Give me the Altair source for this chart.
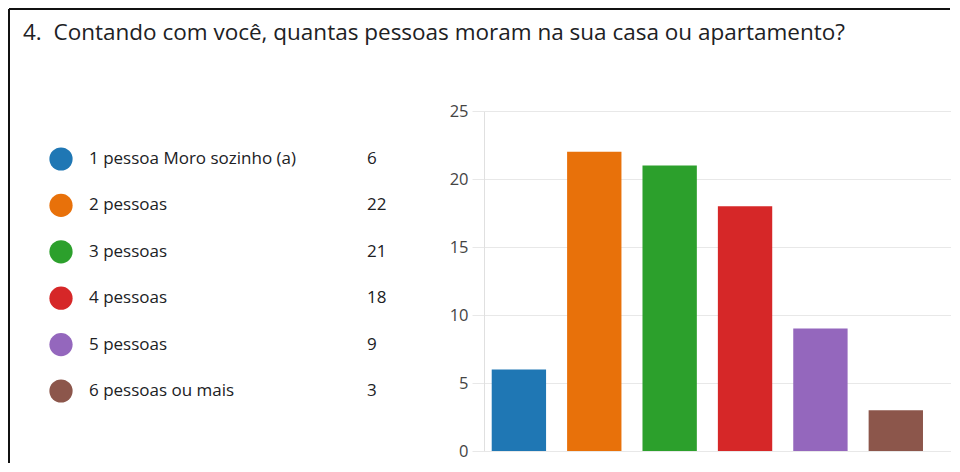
import altair as alt
import pandas as pd

# ---- data ----
categories = ["1 pessoa Moro sozinho (a)", "2 pessoas", "3 pessoas",
              "4 pessoas", "5 pessoas", "6 pessoas ou mais"]
counts = [6, 22, 21, 18, 9, 3]
colors = ["#1f77b4", "#e8710a", "#2ca02c", "#d62728", "#9467bd", "#8c564b"]
y_ticks = [0, 5, 10, 15, 20, 25]
title_text = "4.\u00a0\u00a0Contando com você, quantas pessoas moram na sua casa ou apartamento?"

df = pd.DataFrame({"cat": categories, "n": counts})
title_df = pd.DataFrame({"t": [title_text]})
frame_df = pd.DataFrame({"k": [0]})

FONT = "Open Sans"
TXT = "#202124"
H = 340

color_scale = alt.Scale(domain=categories, range=colors)
color_enc = alt.Color("cat:N", scale=color_scale, legend=None)

row_y = alt.Y("cat:N", sort=categories, axis=None,
              scale=alt.Scale(type="point", range=[48, 280], padding=0))

# ---- left panel: custom legend with counts ----
frame_left = alt.Chart(frame_df).mark_rule(color="#111", strokeWidth=2).encode(
    x=alt.value(1), y=alt.value(-102), y2=alt.value(352))
frame_top = alt.Chart(frame_df).mark_rule(color="#111", strokeWidth=2).encode(
    x=alt.value(1), x2=alt.value(942), y=alt.value(-102))

title_mark = alt.Chart(title_df).mark_text(
    align="left", baseline="middle", fontSize=22.5, font=FONT, color=TXT
).encode(x=alt.value(15), y=alt.value(-78), text="t:N")

dots = alt.Chart(df).mark_circle(size=540, opacity=1).encode(
    x=alt.value(53), y=row_y, color=color_enc)
labels = alt.Chart(df).mark_text(
    align="left", baseline="middle", fontSize=17, font=FONT, color=TXT
).encode(x=alt.value(81), y=row_y, text="cat:N")
nums = alt.Chart(df).mark_text(
    align="left", baseline="middle", fontSize=17, font=FONT, color=TXT
).encode(x=alt.value(359), y=row_y, text="n:Q")

left = alt.layer(frame_left, frame_top, title_mark, dots, labels, nums).properties(
    width=476, height=H)

# ---- right panel: bar chart ----
bars = alt.Chart(df).mark_bar().encode(
    x=alt.X("cat:N", sort=categories, axis=None,
            scale=alt.Scale(paddingInner=0.279, paddingOuter=0.237, align=0.216)),
    y=alt.Y("n:Q", scale=alt.Scale(domain=[0, 25], nice=False),
            axis=alt.Axis(values=y_ticks, title=None, grid=True,
                          gridColor="#e8e8e8", domainColor="#e0e0e0",
                          tickColor="#e8e8e8", tickSize=12, labelPadding=4,
                          labelFont=FONT, labelFontSize=16.5, labelColor="#444")),
    color=color_enc,
).properties(width=467, height=H)

chart = alt.hconcat(left, bars, spacing=0, bounds="flush").properties(
    padding=0
).configure_view(stroke=None)

chart.save("out.html", embed_options={"renderer": "svg", "actions": False})
